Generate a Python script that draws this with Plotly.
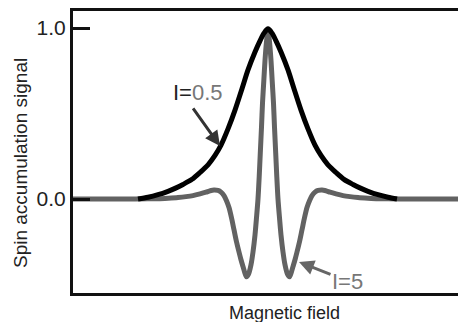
import plotly.graph_objects as go

# Magnetic field (arbitrary units, centred on the Hanle peak)
field_I05 = [-130, -120, -110, -100, -93, -85, -76, -68, -60, -53, -47, -40, -33, -26, -20, -13, -8, -4, 0,
             4, 8, 13, 20, 26, 33, 40, 47, 53, 60, 68, 76, 85, 93, 100, 110, 120, 129]
signal_I05 = [0.0, 0.01, 0.025, 0.045, 0.062, 0.085, 0.115, 0.155, 0.20, 0.255, 0.315, 0.41, 0.52, 0.645, 0.755, 0.86, 0.925, 0.97, 0.995,
              0.97, 0.925, 0.86, 0.755, 0.645, 0.52, 0.41, 0.315, 0.255, 0.20, 0.155, 0.115, 0.085, 0.062, 0.045, 0.025, 0.01, 0.0]

field_I5 = [-195, -140, -120, -110, -100, -90, -82, -75, -68, -62, -58, -54, -50, -47, -44, -41.5, -39, -36.5, -34,
            -31.5, -29, -27, -25, -23.5, -21.5, -19.5, -17, -15, -13, -11.5, -10, -8.8, -7.7, -6.5, -5.5, -4.2, -3,
            -1.5, 0, 1.5, 3, 4.2, 5.5, 6.5, 7.7, 8.8, 10, 11.5, 13, 15, 17, 19.5, 21.5, 23.5, 25, 27, 29, 31.5, 34,
            36.5, 39, 41.5, 44, 47, 50, 54, 58, 62, 68, 75, 82, 90, 100, 110, 120, 140, 190]
signal_I5 = [0.0, 0.0, 0.001, 0.002, 0.005, 0.009, 0.014, 0.02, 0.03, 0.04, 0.048, 0.053, 0.05, 0.04, 0.02, -0.01, -0.05, -0.11, -0.18,
             -0.25, -0.31, -0.355, -0.395, -0.425, -0.455, -0.44, -0.385, -0.31, -0.21, -0.11, 0.0, 0.13, 0.27, 0.42, 0.56, 0.69, 0.81,
             0.92, 0.99, 0.92, 0.81, 0.69, 0.56, 0.42, 0.27, 0.13, 0.0, -0.11, -0.21, -0.31, -0.385, -0.44, -0.455, -0.425, -0.395, -0.355, -0.31, -0.25, -0.18,
             -0.11, -0.05, -0.01, 0.02, 0.04, 0.05, 0.053, 0.048, 0.04, 0.03, 0.02, 0.014, 0.009, 0.005, 0.002, 0.001, 0.0, 0.0]

y_ticks = [0.0, 1.0]
y_ticklabels = ["0.0", "1.0"]

FONT = "Liberation Sans, Arial, sans-serif"
W, H = 458, 322
ML, MR, MT, MB = 73, 0, 11, 29

fig = go.Figure()
fig.add_trace(go.Scatter(x=field_I5, y=signal_I5, mode="lines",
                         line=dict(color="#626262", width=5, shape="spline", smoothing=0.8),
                         showlegend=False, hoverinfo="skip"))
fig.add_trace(go.Scatter(x=field_I05, y=signal_I05, mode="lines",
                         line=dict(color="#000000", width=5, shape="spline", smoothing=0.8),
                         showlegend=False, hoverinfo="skip"))

fig.update_layout(
    width=W, height=H,
    margin=dict(l=ML, r=MR, t=MT, b=MB, pad=0),
    paper_bgcolor="white", plot_bgcolor="white",
    font=dict(family=FONT, color="#222222"),
    xaxis=dict(range=[-195, 190], showgrid=False, zeroline=False, showticklabels=False, ticks="",
               showline=True, linecolor="#111111", linewidth=3, mirror=True),
    yaxis=dict(range=[-0.5497, 1.0994], showgrid=False, zeroline=False,
               tickmode="array", tickvals=y_ticks, ticktext=y_ticklabels,
               ticks="inside", ticklen=17, tickwidth=3, tickcolor="#111111",
               tickfont=dict(size=21, color="#222222", family=FONT),
               showline=True, linecolor="#111111", linewidth=3, mirror=False),
)

PW = W - ML - MR
PH = H - MT - MB
def px(xp):
    return (xp - ML) / PW
def py(yp):
    return (H - MB - yp) / PH

# axis titles
fig.add_annotation(text="Spin accumulation signal", xref="paper", yref="paper",
                   x=px(20), y=py(163), textangle=-90, showarrow=False,
                   font=dict(size=19, color="#222222", family=FONT), xanchor="center", yanchor="middle")
fig.add_annotation(text="Magnetic field", xref="paper", yref="paper",
                   x=px(284), y=py(313), showarrow=False,
                   font=dict(size=18, color="#222222", family=FONT), xanchor="center", yanchor="middle")

# curve labels
fig.add_annotation(text="<span style='color:#222222'>I=</span><span style='color:#777777'>0.5</span>",
                   xref="paper", yref="paper", x=px(197.5), y=py(92), showarrow=False,
                   font=dict(size=22, family=FONT), xanchor="center", yanchor="middle")
fig.add_annotation(text="", x=-48, y=0.31, xref="x", yref="y", showarrow=True,
                   ax=-28, ay=-39, arrowhead=2, arrowsize=1, arrowwidth=3, arrowcolor="#333333")
fig.add_annotation(text="I=5", xref="paper", yref="paper", x=px(347.5), y=py(281), showarrow=False,
                   font=dict(size=22, color="#777777", family=FONT), xanchor="center", yanchor="middle")
fig.add_annotation(text="", x=31, y=-0.368, xref="x", yref="y", showarrow=True,
                   ax=33, ay=13, arrowhead=2, arrowsize=1, arrowwidth=3, arrowcolor="#666666")

fig.write_html("out.html")
